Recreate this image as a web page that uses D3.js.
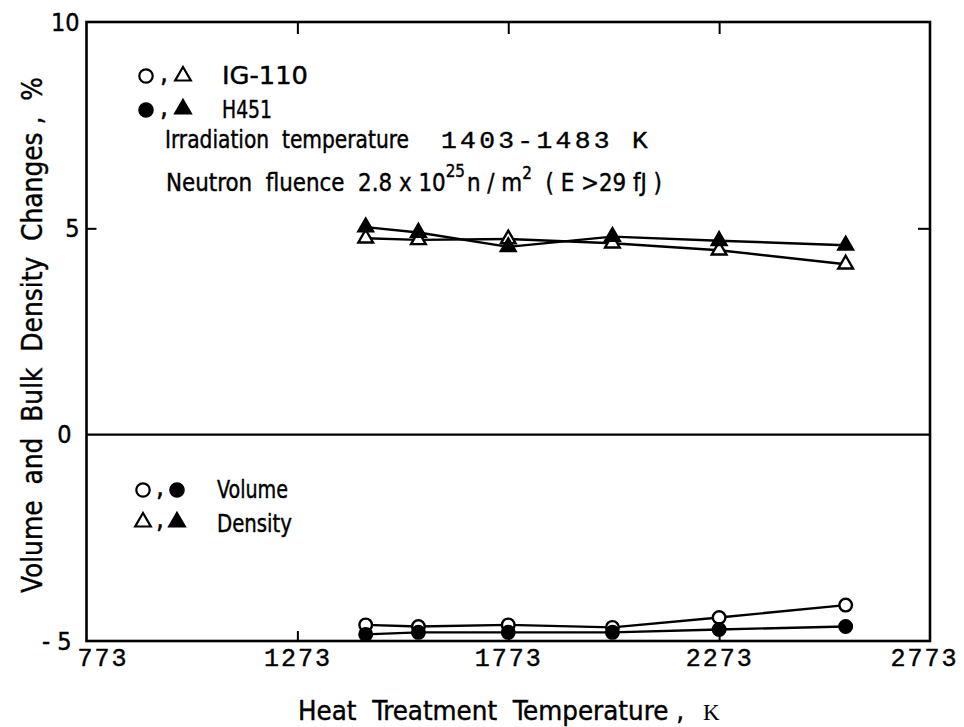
<!DOCTYPE html>
<html><head><meta charset="utf-8">
<script src="https://cdn.jsdelivr.net/npm/d3@7"></script>
<style>body{margin:0;background:#fff} text{white-space:pre}</style>
</head><body><svg id="c" width="964" height="727"></svg>
<script>
// ---- data ----
const temperatures = [1435, 1560, 1773, 2020, 2273, 2573];
const ig110Density = [4.76, 4.72, 4.74, 4.64, 4.47, 4.13];
const h451Density  = [5.03, 4.90, 4.55, 4.80, 4.70, 4.59];
const ig110Volume  = [-4.61, -4.65, -4.61, -4.67, -4.43, -4.13];
const h451Volume   = [-4.84, -4.79, -4.79, -4.79, -4.72, -4.65];
const xTickValues = [773, 1273, 1773, 2273, 2773];
const yTickValues = [-5, 0, 5, 10];
const innerXTicks = [1273, 1773, 2273];
const xTitle = "Heat  Treatment  Temperature ,";
const xUnit = "K";
const yTitle = "Volume  and  Bulk  Density  Changes ,  %";
const gradeLabels = ["IG-110", "H451"];
const propLabels = ["Volume", "Density"];
const irrLabel = "Irradiation  temperature";
const irrValue = "1403-1483 K";

const SANS = "'Liberation Sans Narrow','DejaVu Sans Condensed',sans-serif";
const MONO = "'Liberation Mono','DejaVu Sans Mono',monospace";

const svg = d3.select("#c");
const x = d3.scaleLinear().domain([773, 2773]).range([86.5, 930]);
const y = d3.scaleLinear().domain([-5, 10]).range([641, 22]);

const series = [
  {values: ig110Density, shape: "triangle", filled: false},
  {values: h451Density,  shape: "triangle", filled: true},
  {values: ig110Volume,  shape: "circle",   filled: false},
  {values: h451Volume,   shape: "circle",   filled: true}
];

function sym(shape, scale) {
  return shape === "circle"
    ? d3.symbol().type(d3.symbolCircle).size(Math.PI * 6 * 6 * scale)()
    : d3.symbol().type(d3.symbolTriangle).size(Math.sqrt(3) / 4 * 14 * 14 * scale)();
}

// frame
svg.append("rect")
  .attr("x", x(773)).attr("y", y(10))
  .attr("width", x(2773) - x(773)).attr("height", y(-5) - y(10))
  .attr("fill", "none").attr("stroke", "#000").attr("stroke-width", 2.6);

// zero line
svg.append("line")
  .attr("x1", x(773)).attr("x2", x(2773))
  .attr("y1", y(0)).attr("y2", y(0))
  .attr("stroke", "#000").attr("stroke-width", 2.2);

// bottom axis (labels + inward ticks)
const gx = svg.append("g").attr("transform", `translate(0,${y(-5)})`)
  .call(d3.axisBottom(x).tickValues(xTickValues).tickSize(-10).tickPadding(7).tickFormat(d3.format("d")));
gx.select(".domain").remove();
gx.selectAll(".tick line").attr("stroke-width", 2)
  .filter(d => d === 773 || d === 2773).remove();
gx.selectAll(".tick text")
  .attr("font-family", MONO).attr("font-size", 25).attr("letter-spacing", 2)
  .attr("fill", "#000").attr("stroke", "#000").attr("stroke-width", 0.4)
  .attr("dx", d => d === 773 ? 16 : (d === 2773 ? -6 : 0));

// top axis inward ticks
const gt = svg.append("g").attr("transform", `translate(0,${y(10)})`)
  .call(d3.axisTop(x).tickValues(innerXTicks).tickSize(-12).tickFormat(""));
gt.select(".domain").remove();
gt.selectAll(".tick line").attr("stroke-width", 2);

// left axis
const gy = svg.append("g").attr("transform", `translate(${x(773)},0)`)
  .call(d3.axisLeft(y).tickValues(yTickValues).tickSize(-10).tickPadding(7).tickFormat(d3.format("d")));
gy.select(".domain").remove();
gy.selectAll(".tick line").attr("stroke-width", 2)
  .filter(d => d !== 5).remove();
gy.selectAll(".tick text")
  .attr("font-family", SANS).attr("font-size", 25).attr("fill", "#000")
  .attr("stroke", "#000").attr("stroke-width", 0.4)
  .text(d => d < 0 ? "- " + Math.abs(d) : d)
  .attr("dx", d => d <= 0 ? -8 : 0);

// right axis tick
const gr = svg.append("g").attr("transform", `translate(${x(2773)},0)`)
  .call(d3.axisRight(y).tickValues([5]).tickSize(-12).tickFormat(""));
gr.select(".domain").remove();
gr.selectAll(".tick line").attr("stroke-width", 2);

// series
const line = d3.line().x((d, i) => x(temperatures[i])).y(d => y(d));
series.forEach(s => {
  svg.append("path").attr("d", line(s.values))
    .attr("fill", "none").attr("stroke", "#000").attr("stroke-width", 2.4);
});
series.forEach(s => {
  svg.append("g").selectAll("path").data(s.values).join("path")
    .attr("d", sym(s.shape, 1.1))
    .attr("transform", (d, i) => `translate(${x(temperatures[i])},${y(d)})`)
    .attr("fill", s.filled ? "#000" : "#fff")
    .attr("stroke", "#000").attr("stroke-width", 2.4);
});

// legend markers
function marker(shape, filled, cx, cy) {
  svg.append("path").attr("d", sym(shape, 1.25))
    .attr("transform", `translate(${cx},${cy})`)
    .attr("fill", filled ? "#000" : "#fff")
    .attr("stroke", "#000").attr("stroke-width", 2.2);
}
function comma(cx, cy) {
  svg.append("text").attr("x", cx).attr("y", cy).text(",")
    .attr("font-family", SANS).attr("font-size", 26).attr("text-anchor", "middle")
    .attr("stroke", "#000").attr("stroke-width", 0.6);
}
marker("circle", false, 146, 76); comma(164, 82); marker("triangle", false, 183, 76);
marker("circle", true, 146, 110); comma(164, 116); marker("triangle", true, 183, 109);
marker("circle", false, 143, 490); comma(160, 496); marker("circle", true, 177, 490);
marker("triangle", false, 143, 522); comma(160, 528); marker("triangle", true, 177, 522);

function label(txt, x0, base, len, size, fam) {
  return svg.append("text").attr("x", x0).attr("y", base).text(txt)
    .attr("font-family", fam || SANS).attr("font-size", size)
    .attr("stroke", "#000").attr("stroke-width", 0.4)
    .attr("textLength", len).attr("lengthAdjust", "spacingAndGlyphs");
}
label(gradeLabels[0], 222, 84, 86, 25);
label(gradeLabels[1], 222, 118, 50, 25);
label(propLabels[0], 217, 498, 71, 24);
label(propLabels[1], 217, 532, 75, 24);
label(irrLabel, 165, 148, 244, 24);
label(irrValue, 441, 148, 210, 24, MONO).attr("letter-spacing", 3);

// fluence line
const ft = svg.append("text").attr("x", 166).attr("y", 191)
  .attr("font-family", SANS).attr("font-size", 24)
  .attr("stroke", "#000").attr("stroke-width", 0.4)
  .attr("textLength", 496).attr("lengthAdjust", "spacingAndGlyphs");
ft.append("tspan").text("Neutron  fluence  2.8 x 10");
ft.append("tspan").text("25").attr("font-size", 17).attr("dy", -14);
ft.append("tspan").text("n / m").attr("dy", 14).attr("dx", 2);
ft.append("tspan").text("2").attr("font-size", 17).attr("dy", -12);
ft.append("tspan").text("  ( E >29 fJ )").attr("dy", 12);

// axis titles
label(xTitle, 298, 720, 386, 26);
svg.append("text").attr("x", 703).attr("y", 720).text(xUnit)
  .attr("font-family", "'Liberation Serif','DejaVu Serif',serif").attr("font-size", 23);

svg.append("text")
  .attr("transform", "translate(42,335) rotate(-90)")
  .attr("text-anchor", "middle")
  .attr("font-family", SANS).attr("font-size", 28)
  .attr("stroke", "#000").attr("stroke-width", 0.4)
  .attr("textLength", 516).attr("lengthAdjust", "spacingAndGlyphs")
  .text(yTitle);
</script></body></html>
